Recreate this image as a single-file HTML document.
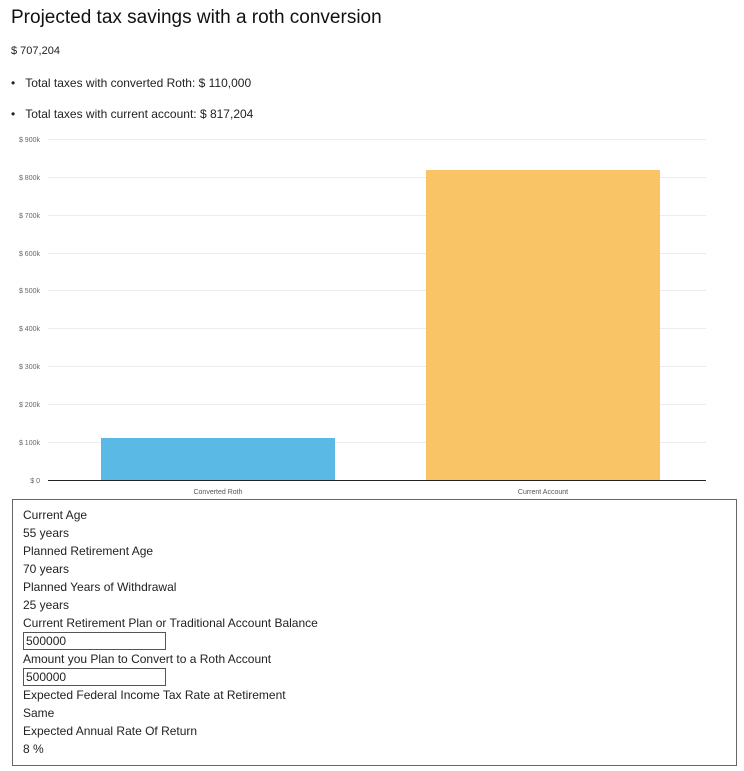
<!DOCTYPE html>
<html><head><meta charset="utf-8"><style>
body{margin:0;width:744px;height:771px;background:#fff;font-family:"Liberation Sans",sans-serif;color:#222;position:relative;overflow:hidden}
.a{position:absolute;white-space:nowrap}
.box{position:absolute;left:12px;top:499px;width:723px;height:265px;border:1px solid #666}
.l{position:absolute;left:10px;font-size:12px;color:#222}
.in{position:absolute;left:10px;width:140px;height:16px;border:1px solid #555;font-size:12px;line-height:16px;padding-left:2px;box-sizing:border-box;width:143px;height:18px}
</style></head><body>
<div class="a" style="left:11px;top:7px;font-size:19px;color:#111">Projected tax savings with a roth conversion</div>
<div class="a" style="left:11px;top:45px;font-size:11px">$ 707,204</div>
<div class="a" style="left:11px;top:76px;font-size:12px">•&nbsp;&nbsp;&nbsp;Total taxes with converted Roth: $ 110,000</div>
<div class="a" style="left:11px;top:107px;font-size:12px">•&nbsp;&nbsp;&nbsp;Total taxes with current account: $ 817,204</div>
<svg class="a" style="left:0;top:0" width="744" height="500">
<g stroke="#ececec" stroke-width="1">
<line x1="48" x2="706" y1="139.5" y2="139.5"/><line x1="48" x2="706" y1="177.5" y2="177.5"/><line x1="48" x2="706" y1="215.5" y2="215.5"/><line x1="48" x2="706" y1="253.5" y2="253.5"/><line x1="48" x2="706" y1="290.5" y2="290.5"/><line x1="48" x2="706" y1="328.5" y2="328.5"/><line x1="48" x2="706" y1="366.5" y2="366.5"/><line x1="48" x2="706" y1="404.5" y2="404.5"/><line x1="48" x2="706" y1="442.5" y2="442.5"/>
</g>
<rect x="101" y="438" width="234" height="42" fill="#5bb9e5"/>
<rect x="426" y="170" width="234" height="310" fill="#f9c466"/>
<line x1="48" x2="706" y1="480.5" y2="480.5" stroke="#222"/>
<g font-size="7" fill="#666" text-anchor="end" font-family="Liberation Sans">
<text x="40" y="142">$ 900k</text><text x="40" y="180">$ 800k</text><text x="40" y="218">$ 700k</text><text x="40" y="256">$ 600k</text><text x="40" y="293">$ 500k</text><text x="40" y="331">$ 400k</text><text x="40" y="369">$ 300k</text><text x="40" y="407">$ 200k</text><text x="40" y="445">$ 100k</text><text x="40" y="483">$ 0</text>
</g>
<g font-size="7" fill="#555" text-anchor="middle" font-family="Liberation Sans">
<text x="218" y="494">Converted Roth</text><text x="543" y="494">Current Account</text>
</g>
</svg>
<div class="box">
<div class="l" style="top:8px">Current Age</div>
<div class="l" style="top:26px">55 years</div>
<div class="l" style="top:44px">Planned Retirement Age</div>
<div class="l" style="top:62px">70 years</div>
<div class="l" style="top:80px">Planned Years of Withdrawal</div>
<div class="l" style="top:98px">25 years</div>
<div class="l" style="top:116px">Current Retirement Plan or Traditional Account Balance</div>
<div class="in" style="top:132px">500000</div>
<div class="l" style="top:152px">Amount you Plan to Convert to a Roth Account</div>
<div class="in" style="top:168px">500000</div>
<div class="l" style="top:188px">Expected Federal Income Tax Rate at Retirement</div>
<div class="l" style="top:206px">Same</div>
<div class="l" style="top:224px">Expected Annual Rate Of Return</div>
<div class="l" style="top:242px">8 %</div>
</div>
</body></html>
